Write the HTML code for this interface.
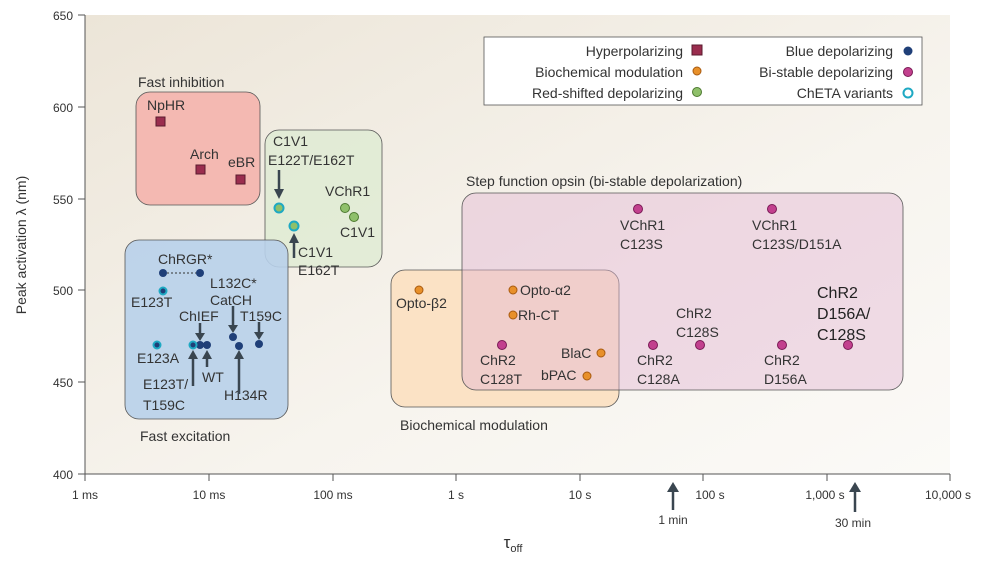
<!DOCTYPE html><html><head><meta charset="utf-8"><style>body{margin:0;background:#fff}svg{display:block;font-family:"Liberation Sans",sans-serif}</style></head><body>
<svg width="987" height="564" viewBox="0 0 987 564">
<defs><linearGradient id="bg" x1="0" y1="0" x2="1" y2="1"><stop offset="0" stop-color="#ece5d8"/><stop offset="0.6" stop-color="#f7f4ee"/><stop offset="1" stop-color="#fbfaf7"/></linearGradient></defs>
<rect x="85" y="15" width="865" height="459" fill="url(#bg)"/>
<g stroke="#555" stroke-width="1"><line x1="85" y1="15" x2="85" y2="474"/><line x1="85" y1="474" x2="950" y2="474"/>
<line x1="78" y1="15" x2="85" y2="15"/><line x1="78" y1="107" x2="85" y2="107"/><line x1="78" y1="199" x2="85" y2="199"/><line x1="78" y1="290" x2="85" y2="290"/><line x1="78" y1="382" x2="85" y2="382"/><line x1="78" y1="474" x2="85" y2="474"/>
<line x1="85" y1="474" x2="85" y2="481"/><line x1="209" y1="474" x2="209" y2="481"/><line x1="333" y1="474" x2="333" y2="481"/><line x1="456" y1="474" x2="456" y2="481"/><line x1="580" y1="474" x2="580" y2="481"/><line x1="703" y1="474" x2="703" y2="481"/><line x1="827" y1="474" x2="827" y2="481"/><line x1="950" y1="474" x2="950" y2="481"/></g>
<g font-size="12" fill="#333" text-anchor="end"><text x="73" y="20">650</text><text x="73" y="112">600</text><text x="73" y="204">550</text><text x="73" y="295">500</text><text x="73" y="387">450</text><text x="73" y="479">400</text></g>
<g font-size="12" fill="#333" text-anchor="middle"><text x="85" y="499">1 ms</text><text x="209" y="499">10 ms</text><text x="333" y="499">100 ms</text><text x="456" y="499">1 s</text><text x="580" y="499">10 s</text><text x="710" y="499">100 s</text><text x="825" y="499">1,000 s</text><text x="948" y="499">10,000 s</text>
<text x="673" y="524">1 min</text><text x="853" y="527">30 min</text>
<text x="513" y="548" font-size="17">τ<tspan font-size="11" dy="4">off</tspan></text></g>
<text transform="translate(26,245) rotate(-90)" font-size="14" fill="#333" text-anchor="middle">Peak activation λ (nm)</text>
<g fill="#3a4650" stroke="#3a4650" stroke-width="2.5"><line x1="673" y1="510" x2="673" y2="490"/><line x1="855" y1="512" x2="855" y2="490"/></g>
<g fill="#3a4650"><path d="M667,492 L673,482 L679,492Z"/><path d="M849,492 L855,482 L861,492Z"/></g>
<rect x="136" y="92" width="124" height="113" rx="14" fill="#f4b9b2" stroke="#555" stroke-width="0.8"/>
<rect x="265" y="130" width="117" height="137" rx="14" fill="#dfebd3" fill-opacity="0.85" stroke="#555" stroke-width="0.8"/>
<rect x="125" y="240" width="163" height="179" rx="14" fill="#b8d0ea" fill-opacity="0.9" stroke="#555" stroke-width="0.8"/>
<rect x="391" y="270" width="228" height="137" rx="14" fill="#fbe2c5" stroke="#555" stroke-width="0.8"/>
<rect x="462" y="193" width="441" height="197" rx="14" fill="#e3b6d3" fill-opacity="0.45" stroke="#555" stroke-width="0.8"/>
<g font-size="14" fill="#333"><text x="138" y="87">Fast inhibition</text><text x="140" y="441">Fast excitation</text><text x="400" y="430">Biochemical modulation</text><text x="466" y="186">Step function opsin (bi-stable depolarization)</text></g>
<rect x="484" y="37" width="438" height="68" fill="#fff" stroke="#555" stroke-width="0.8"/>
<g font-size="14" fill="#333" text-anchor="end"><text x="683" y="56">Hyperpolarizing</text><text x="683" y="77">Biochemical modulation</text><text x="683" y="98">Red-shifted depolarizing</text><text x="893" y="56">Blue depolarizing</text><text x="893" y="77">Bi-stable depolarizing</text><text x="893" y="98">ChETA variants</text></g>
<rect x="692" y="45" width="10" height="10" fill="#9a2d4e" stroke="#5a1a2e"/>
<circle cx="697" cy="71" r="4" fill="#e8902a" stroke="#a85a10"/>
<circle cx="697" cy="92" r="4.5" fill="#8fc06a" stroke="#4e7a30"/>
<circle cx="908" cy="51" r="4.5" fill="#1f3f78"/>
<circle cx="908" cy="72" r="4.5" fill="#c2408e" stroke="#7a1a55"/>
<circle cx="908" cy="93" r="4.5" fill="#fff" stroke="#1ea9c3" stroke-width="2"/>
<g fill="#9a2d4e" stroke="#5a1a2e"><rect x="156" y="117" width="9" height="9"/><rect x="196" y="165" width="9" height="9"/><rect x="236" y="175" width="9" height="9"/></g>
<g font-size="14" fill="#333"><text x="147" y="110">NpHR</text><text x="190" y="159">Arch</text><text x="228" y="167">eBR</text></g>
<g font-size="14" fill="#333"><text x="273" y="146">C1V1</text><text x="268" y="165">E122T/E162T</text><text x="325" y="196">VChR1</text><text x="340" y="237">C1V1</text><text x="298" y="257">C1V1</text><text x="298" y="275">E162T</text></g>
<g fill="#8fc06a" stroke="#4e7a30"><circle cx="345" cy="208" r="4.5"/><circle cx="354" cy="217" r="4.5"/></g>
<g fill="#8fc06a" stroke="#1ea9c3" stroke-width="2"><circle cx="279" cy="208" r="4.5"/><circle cx="294" cy="226" r="4.5"/></g>
<g font-size="14" fill="#333"><text x="158" y="264">ChRGR*</text><text x="131" y="307">E123T</text><text x="210" y="288">L132C*</text><text x="210" y="305">CatCH</text><text x="179" y="321">ChIEF</text><text x="240" y="321">T159C</text><text x="137" y="363">E123A</text><text x="143" y="389">E123T/</text><text x="143" y="410">T159C</text><text x="202" y="382">WT</text><text x="224" y="400">H134R</text></g>
<line x1="163" y1="273" x2="200" y2="273" stroke="#333" stroke-dasharray="2,2"/>
<g fill="#1f3f78"><circle cx="163" cy="273" r="4"/><circle cx="200" cy="273" r="4"/><circle cx="200" cy="345" r="4"/><circle cx="207" cy="345" r="4"/><circle cx="233" cy="337" r="4"/><circle cx="239" cy="346" r="4"/><circle cx="259" cy="344" r="4"/></g>
<g fill="#1f3f78" stroke="#1ea9c3" stroke-width="2"><circle cx="163" cy="291" r="3.5"/><circle cx="157" cy="345" r="3.5"/><circle cx="193" cy="345" r="3.5"/></g>
<g stroke="#3a4650" stroke-width="2.5"><line x1="200" y1="323" x2="200" y2="334"/><line x1="233" y1="306" x2="233" y2="325"/><line x1="259" y1="322" x2="259" y2="333"/><line x1="193" y1="386" x2="193" y2="358"/><line x1="207" y1="367" x2="207" y2="358"/><line x1="239" y1="394" x2="239" y2="358"/><line x1="279" y1="170" x2="279" y2="190"/><line x1="294" y1="258" x2="294" y2="242"/></g>
<g fill="#3a4650"><path d="M195,333 L200,341 L205,333Z"/><path d="M228,325 L233,333 L238,325Z"/><path d="M254,332 L259,340 L264,332Z"/><path d="M188,359 L193,350 L198,359Z"/><path d="M202,359 L207,350 L212,359Z"/><path d="M234,359 L239,350 L244,359Z"/><path d="M274,189 L279,199 L284,189Z"/><path d="M289,243 L294,233 L299,243Z"/></g>
<g fill="#e8902a" stroke="#a85a10"><circle cx="419" cy="290" r="4"/><circle cx="513" cy="290" r="4"/><circle cx="513" cy="315" r="4"/><circle cx="601" cy="353" r="4"/><circle cx="587" cy="376" r="4"/></g>
<g font-size="14" fill="#333"><text x="396" y="308">Opto-β2</text><text x="520" y="295">Opto-α2</text><text x="518" y="320">Rh-CT</text><text x="561" y="358">BlaC</text><text x="541" y="380">bPAC</text></g>
<g fill="#c2408e" stroke="#7a1a55"><circle cx="638" cy="209" r="4.5"/><circle cx="772" cy="209" r="4.5"/><circle cx="502" cy="345" r="4.5"/><circle cx="653" cy="345" r="4.5"/><circle cx="700" cy="345" r="4.5"/><circle cx="782" cy="345" r="4.5"/><circle cx="848" cy="345" r="4.5"/></g>
<g font-size="14" fill="#333"><text x="620" y="230">VChR1</text><text x="620" y="249">C123S</text><text x="752" y="230">VChR1</text><text x="752" y="249">C123S/D151A</text><text x="480" y="365">ChR2</text><text x="480" y="384">C128T</text><text x="637" y="365">ChR2</text><text x="637" y="384">C128A</text><text x="676" y="318">ChR2</text><text x="676" y="337">C128S</text><text x="764" y="365">ChR2</text><text x="764" y="384">D156A</text></g>
<g font-size="16" fill="#222"><text x="817" y="298">ChR2</text><text x="817" y="319">D156A/</text><text x="817" y="340">C128S</text></g>
</svg></body></html>
